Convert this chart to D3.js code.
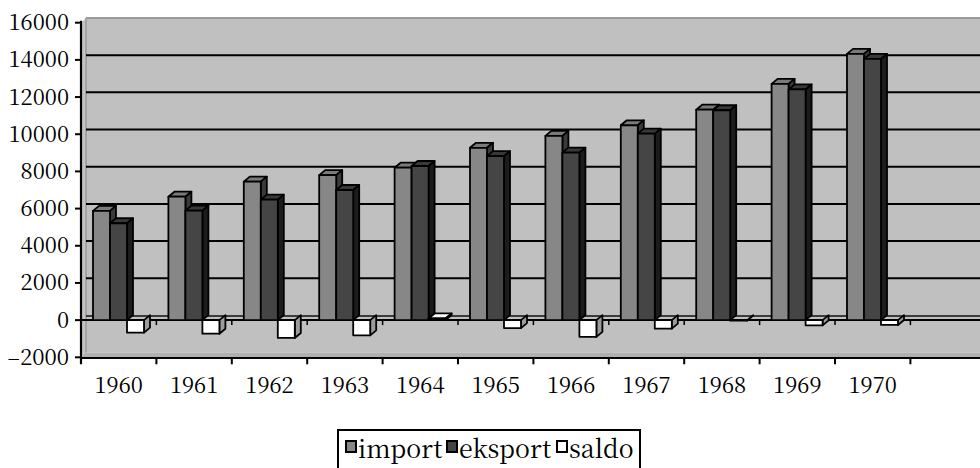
<!DOCTYPE html>
<html>
<head>
<meta charset="utf-8">
<script src="https://cdn.jsdelivr.net/npm/d3@7"></script>
<style>
  body { margin: 0; background: #fff; }
</style>
</head>
<body>
<div class="chart"></div>
<script>
// data
var years = ["1960", "1961", "1962", "1963", "1964", "1965", "1966", "1967", "1968", "1969", "1970"];
var importVals = [5880, 6640, 7450, 7800, 8200, 9270, 9910, 10480, 11320, 12710, 14320];
var eksportVals = [5210, 5890, 6480, 7000, 8290, 8820, 9010, 10030, 11290, 12410, 14050];
var saldoVals = [-670, -730, -960, -820, 90, -430, -900, -460, -30, -280, -260];
var seriesNames = ["import", "eksport", "saldo"];
var yTicks = [-2000, 0, 2000, 4000, 6000, 8000, 10000, 12000, 14000, 16000];

var svgWidth = 980;
var svgHeight = 468;
var fontFam = "'Noto Serif CJK SC'";

// colours for front / top / side faces
var faces = {
  import: { front: "#878787", top: "#7a7a7a", side: "#3a3a3a" },
  eksport: { front: "#454545", top: "#383838", side: "#1c1c1c" },
  saldo: { front: "#ffffff", top: "#ffffff", side: "#9c9c9c" }
};

var svg = d3.select(".chart")
  .append("svg")
  .attr("width", svgWidth)
  .attr("height", svgHeight);

var yScale = d3.scaleLinear()
  .domain([-2000, 16000])
  .range([357.3, 22.7]);

var bandW = 75.4;
var xLeft = 81;
var xScale = d3.scaleBand()
  .domain(years)
  .range([xLeft, xLeft + years.length * bandW]);

var xSeries = d3.scaleBand()
  .domain(seriesNames)
  .range([12, 63]);

// wall depth offset and bar depth offset
var wdx = 5, wdy = 4.7;
var bdx = 6, bdy = 5;
var yTop = yScale(16000), yBot = yScale(-2000), y0 = yScale(0);

// side wall
svg.append("polygon")
  .attr("points", [[xLeft, yTop], [xLeft + wdx, yTop - wdy], [xLeft + wdx, yBot - wdy], [xLeft, yBot]].join(" "))
  .attr("fill", "#c4c4c4");

// back wall
svg.append("rect")
  .attr("x", xLeft + wdx)
  .attr("y", yTop - wdy)
  .attr("width", svgWidth - xLeft - wdx)
  .attr("height", yBot - yTop)
  .attr("fill", "#c0c0c0");

svg.append("line")
  .attr("x1", xLeft + wdx).attr("x2", svgWidth)
  .attr("y1", yTop - wdy).attr("y2", yTop - wdy)
  .attr("stroke", "#999").attr("stroke-width", 2);

svg.append("line")
  .attr("x1", xLeft + wdx).attr("x2", xLeft + wdx)
  .attr("y1", yTop - wdy).attr("y2", yBot - wdy)
  .attr("stroke", "#9a9a9a").attr("stroke-width", 1.5);

// floor
svg.append("polygon")
  .attr("points", [[xLeft, yBot], [xLeft + wdx, yBot - wdy], [svgWidth, yBot - wdy], [svgWidth, yBot]].join(" "))
  .attr("fill", "#b0b0b0");

// gridlines on back wall
svg.append("g")
  .selectAll("line")
  .data(yTicks.filter(d => d > 0 && d < 16000))
  .enter()
  .append("line")
  .attr("x1", xLeft + wdx)
  .attr("x2", svgWidth)
  .attr("y1", d => yScale(d) - wdy)
  .attr("y2", d => yScale(d) - wdy)
  .attr("stroke", "#000")
  .attr("stroke-width", 2);

// zero plane
svg.append("line")
  .attr("x1", xLeft + wdx).attr("x2", svgWidth)
  .attr("y1", y0 - 4).attr("y2", y0 - 4)
  .attr("stroke", "#111").attr("stroke-width", 1.5);
svg.append("line")
  .attr("x1", xLeft).attr("x2", svgWidth)
  .attr("y1", y0).attr("y2", y0)
  .attr("stroke", "#000").attr("stroke-width", 2);

// small ticks under the zero plane
var boundaries = d3.range(1, years.length + 1).map(k => xLeft + k * bandW);
svg.append("g")
  .selectAll("line")
  .data(boundaries)
  .enter()
  .append("line")
  .attr("x1", d => d).attr("x2", d => d)
  .attr("y1", y0).attr("y2", y0 + 5)
  .attr("stroke", "#000").attr("stroke-width", 1.5);

// build a flat list of bars
var bars = [];
years.forEach(function (yr, i) {
  bars.push({ year: yr, key: "import", value: importVals[i] });
  bars.push({ year: yr, key: "eksport", value: eksportVals[i] });
  bars.push({ year: yr, key: "saldo", value: saldoVals[i] });
});

var barGroup = svg.append("g")
  .attr("stroke", "#000")
  .attr("stroke-width", 1.8)
  .attr("stroke-linejoin", "round");

bars.forEach(function (d) {
  var x0 = xScale(d.year) + xSeries(d.key);
  var x1 = x0 + xSeries.bandwidth();
  var yv = yScale(d.value);
  var c = faces[d.key];
  var g = barGroup.append("g");

  if (d.value >= 0) {
    // top
    g.append("polygon")
      .attr("points", [[x0, yv], [x0 + bdx, yv - bdy], [x1 + bdx, yv - bdy], [x1, yv]].join(" "))
      .attr("fill", c.top);
    // side
    g.append("polygon")
      .attr("points", [[x1, yv], [x1 + bdx, yv - bdy], [x1 + bdx, y0 - bdy], [x1, y0]].join(" "))
      .attr("fill", c.side);
    // front
    g.append("rect")
      .attr("x", x0).attr("y", yv)
      .attr("width", x1 - x0).attr("height", y0 - yv)
      .attr("fill", c.front);
  } else {
    g.append("polygon")
      .attr("points", [[x1, y0], [x1 + bdx, y0 - bdy], [x1 + bdx, yv - bdy], [x1, yv]].join(" "))
      .attr("fill", c.side);
    g.append("rect")
      .attr("x", x0).attr("y", y0)
      .attr("width", x1 - x0).attr("height", yv - y0)
      .attr("fill", c.front);
  }
});

// y axis
var yAxis = svg.append("g");
yAxis.append("line")
  .attr("x1", xLeft).attr("x2", xLeft)
  .attr("y1", yTop - 2).attr("y2", yBot + 7)
  .attr("stroke", "#000").attr("stroke-width", 2.2);

yAxis.selectAll("line.tick")
  .data(yTicks)
  .enter()
  .append("line")
  .attr("class", "tick")
  .attr("x1", xLeft - 6).attr("x2", xLeft)
  .attr("y1", d => yScale(d)).attr("y2", d => yScale(d))
  .attr("stroke", "#000").attr("stroke-width", 2);

yAxis.selectAll("text")
  .data(yTicks)
  .enter()
  .append("text")
  .attr("x", 69)
  .attr("y", d => yScale(d) + 7.5)
  .attr("text-anchor", "end")
  .style("font-family", fontFam)
  .style("font-size", "22px")
  .text(d => d < 0 ? "\u2013" + Math.abs(d) : d);

// x axis
var xAxis = svg.append("g");
xAxis.append("line")
  .attr("x1", xLeft).attr("x2", svgWidth)
  .attr("y1", yBot + 0.7).attr("y2", yBot + 0.7)
  .attr("stroke", "#000").attr("stroke-width", 2.2);

xAxis.selectAll("line.tick")
  .data(boundaries)
  .enter()
  .append("line")
  .attr("class", "tick")
  .attr("x1", d => d).attr("x2", d => d)
  .attr("y1", yBot).attr("y2", yBot + 7)
  .attr("stroke", "#000").attr("stroke-width", 2);

xAxis.selectAll("text")
  .data(years)
  .enter()
  .append("text")
  .attr("x", d => xScale(d) + xScale.bandwidth() / 2)
  .attr("y", 393)
  .attr("text-anchor", "middle")
  .style("font-family", fontFam)
  .style("font-size", "22px")
  .text(d => d);

// legend
var legend = svg.append("g");
legend.append("rect")
  .attr("x", 338).attr("y", 430)
  .attr("width", 302).attr("height", 60)
  .attr("fill", "#fff")
  .attr("stroke", "#000").attr("stroke-width", 2);

var legendItems = [
  { key: "import", sx: 346, tx: 358 },
  { key: "eksport", sx: 447, tx: 459 },
  { key: "saldo", sx: 557, tx: 569 }
];

legendItems.forEach(function (it) {
  legend.append("rect")
    .attr("x", it.sx).attr("y", 441)
    .attr("width", 10).attr("height", 11)
    .attr("fill", faces[it.key].front)
    .attr("stroke", "#000").attr("stroke-width", 2);
  legend.append("text")
    .attr("x", it.tx).attr("y", 457.5)
    .style("font-family", fontFam)
    .style("font-size", "25px")
    .text(it.key);
});
</script>
</body>
</html>
